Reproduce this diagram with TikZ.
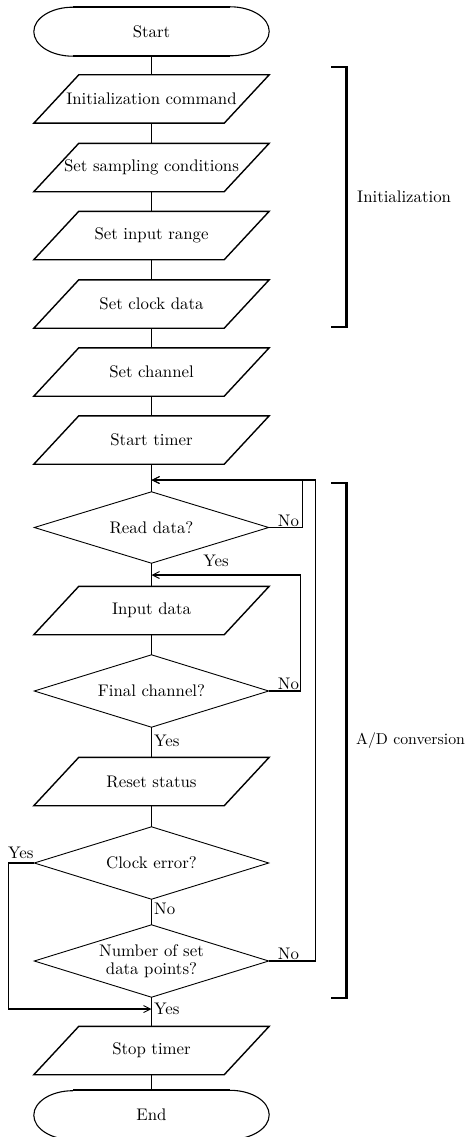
\documentclass[tikz,border=0pt]{standalone}
\usepackage{fontspec}
\setmainfont{lmroman10-regular.otf}
\usetikzlibrary{arrows.meta,calc}
\begin{document}
\begin{tikzpicture}[
  x=1pt, y=-1pt,
  txt/.style={font=\fontsize{16.8}{18}\selectfont},
  lbl/.style={txt, inner sep=1pt},
  term/.style={txt, minimum width=235pt, minimum height=49pt, inner sep=0pt},
  io/.style={txt, minimum width=235pt, minimum height=48pt, inner sep=0pt},
  dec/.style={txt, align=center, minimum width=234pt, minimum height=72pt, inner sep=0pt},
  termflat/.style={line width=1.7pt},
  termcurve/.style={line width=1.1pt},
  ioline/.style={line width=1.4pt, line join=miter},
  decline/.style={line width=0.9pt},
  flow/.style={line width=1.3pt},
  loop/.style={line width=1.1pt, -{Straight Barb[length=7pt,width=7pt,line width=0.9pt]}},
  brk/.style={line width=2.6pt, line cap=butt, line join=miter},
]
\useasboundingbox (0,0) rectangle (470,1137);

% main column
\node[term] (start)  at (151.5,31.5)  {Start};
\node[io]   (init)   at (151.5,99)    {Initialization command};
\node[io]   (samp)   at (151.5,167.5) {Set sampling conditions};
\node[io]   (range)  at (151.5,235.5) {Set input range};
\node[io]   (clock)  at (151.5,304)   {Set clock data};
\node[io]   (chan)   at (151.5,372)   {Set channel};
\node[io]   (timer)  at (151.5,440)   {Start timer};
\node[dec, minimum height=71pt] (read) at (151.5,527.5) {Read data?};
\node[io]   (inp)    at (151.5,610.5) {Input data};
\node[dec]  (final)  at (151.5,691)   {Final channel?};
\node[io]   (reset)  at (151.5,781.5) {Reset status};
\node[dec]  (clkerr) at (151.5,863)   {Clock error?};
\node[dec]  (numpts) at (151.5,961)   {Number of set\\data points?};
\node[io]   (stop)   at (151.5,1050.5){Stop timer};
\node[term] (finish) at (151.5,1115)  {End};

% terminal outlines
\foreach \n in {start,finish}{
  \draw[termflat] ([xshift=39pt]\n.north west) -- ([xshift=-39pt]\n.north east);
  \draw[termflat] ([xshift=39pt]\n.south west) -- ([xshift=-39pt]\n.south east);
  \draw[termcurve] ([xshift=-39pt]\n.north east) arc[start angle=90,end angle=-90,x radius=39pt,y radius=24.5pt];
  \draw[termcurve] ([xshift=39pt]\n.south west) arc[start angle=270,end angle=90,x radius=39pt,y radius=24.5pt];
}

% data (parallelogram) outlines
\foreach \n in {init,samp,range,clock,chan,timer,inp,reset,stop}
  \draw[ioline] (\n.south west) -- ([xshift=-45pt]\n.south east) -- (\n.north east)
                -- ([xshift=45pt]\n.north west) -- cycle;

% decision outlines
\foreach \n in {read,final,clkerr,numpts}
  \draw[decline] (\n.west) -- (\n.north) -- (\n.east) -- (\n.south) -- cycle;

% straight flow
\foreach \a/\b in {start/init,init/samp,samp/range,range/clock,clock/chan,chan/timer,
                   timer/read,read/inp,inp/final,final/reset,reset/clkerr,
                   clkerr/numpts,numpts/stop,stop/finish}
  \draw[flow] (\a.south) -- (\b.north);

% junctions on the main line
\coordinate (j1) at (151.5,480);
\coordinate (j2) at (151.5,575);
\coordinate (j3) at (151.5,1009);

% loops
\draw[loop] (read.east) -- ++(34,0) |- (j1);
\draw[loop] (numpts.east) -- ++(47,0) |- (j1);
\draw[loop] (final.east) -- ++(32,0) |- (j2);
\draw[loop] (clkerr.west) -- ++(-26,0) |- (j3);

% branch labels
\node[lbl, anchor=south west] (noA)  at ([xshift=8pt]read.east)   {No};
\node[lbl]                    (yesA) at (216,561)                 {Yes};
\node[lbl, anchor=south west] (noB)  at ([xshift=8pt]final.east)  {No};
\node[lbl, anchor=west]       (yesB) at (153,741)                 {Yes};
\node[lbl, anchor=south west] (yesC) at (7,860)                   {Yes};
\node[lbl, anchor=west]       (noC)  at (153,909)                 {No};
\node[lbl, anchor=south west] (noD)  at ([xshift=8pt]numpts.east) {No};
\node[lbl, anchor=west]       (yesD) at (153,1009)                {Yes};

% section brackets
\draw[brk] (331,67) -- (346.5,67) -- (346.5,327) -- (331,327);
\node[lbl, anchor=west] (initsec) at (356,197) {Initialization};
\draw[brk] (331,483) -- (346.5,483) -- (346.5,998) -- (331,998);
\node[lbl, anchor=west, font=\fontsize{15.8}{18}\selectfont] (adsec) at (355,741) {A/D conversion};
\end{tikzpicture}
\end{document}
